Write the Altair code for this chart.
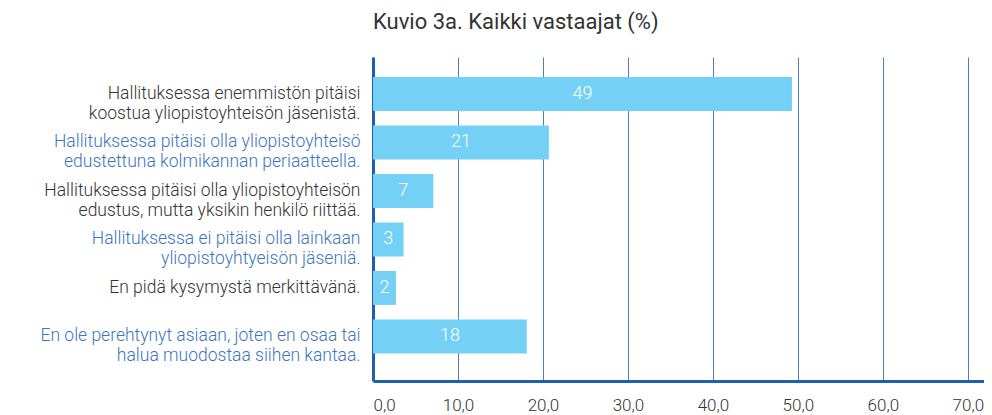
import json
import altair as alt
import pandas as pd

categories = [
    "Hallituksessa enemmistön pitäisi|koostua yliopistoyhteisön jäsenistä.",
    "Hallituksessa pitäisi olla yliopistoyhteisö|edustettuna kolmikannan periaatteella.",
    "Hallituksessa pitäisi olla yliopistoyhteisön|edustus, mutta yksikin henkilö riittää.",
    "Hallituksessa ei pitäisi olla lainkaan|yliopistoyhtyeisön jäseniä.",
    "En pidä kysymystä merkittävänä.",
    "En ole perehtynyt asiaan, joten en osaa tai|halua muodostaa siihen kantaa.",
]
values = [49.3, 20.7, 7.1, 3.6, 2.7, 18.1]
value_labels = ["49", "21", "7", "3", "2", "18"]
blue_categories = [categories[1], categories[3], categories[5]]
x_ticks = [0, 10, 20, 30, 40, 50, 60, 70]
title_text = "Kuvio 3a. Kaikki vastaajat (%)"

df = pd.DataFrame({"cat": categories, "value": values, "label": value_labels})

FONT = "Roboto"
BLUE_AXIS = "#1f5fad"
GRID = "#4a7fc3"
BAR = "#74d1f5"
TXT_BLACK = "#333333"
TXT_BLUE = "#3a75bf"

blue_test = "indexof(" + json.dumps(blue_categories, ensure_ascii=False) + ", datum.value) >= 0"

y_enc = alt.Y(
    "cat:N",
    sort=categories,
    scale=alt.Scale(paddingInner=0.3, paddingOuter=0.49, align=0.42),
    axis=alt.Axis(
        title=None,
        labelExpr="split(datum.label, '|')",
        labelFont=FONT,
        labelFontSize=17.5,
        labelFontWeight=300,
        labelLineHeight=20,
        labelColor={"condition": {"test": blue_test, "value": TXT_BLUE}, "value": TXT_BLACK},
        labelPadding=13,
        labelLimit=400,
        ticks=False,
        domain=True,
        domainColor=BLUE_AXIS,
        domainWidth=3,
        grid=False,
    ),
)

x_scale = alt.Scale(domain=[0, 71.9], nice=False, zero=True)

bars = alt.Chart(df).mark_bar(color=BAR).encode(
    x=alt.X(
        "value:Q",
        scale=x_scale,
        axis=alt.Axis(
            title=None,
            values=x_ticks,
            labelExpr="replace(format(datum.value, '.1f'), '.', ',')",
            labelFont=FONT,
            labelFontSize=17,
            labelFontWeight=300,
            labelColor=TXT_BLACK,
            labelPadding=16,
            ticks=False,
            domainColor=BLUE_AXIS,
            domainWidth=3,
            gridColor=GRID,
            gridWidth=1,
            gridOpacity=1,
        ),
    ),
    y=y_enc,
)

texts = alt.Chart(df).transform_calculate(mid="datum.value / 2").mark_text(
    color="white", font=FONT, fontSize=18, fontWeight=300, baseline="middle", align="center"
).encode(
    x=alt.X("mid:Q", scale=x_scale),
    y=alt.Y("cat:N", sort=categories),
    text="label:N",
)

chart = (
    alt.layer(bars, texts)
    .properties(
        width=611,
        height=324,
        title=alt.TitleParams(
            title_text,
            anchor="start",
            frame="group",
            font=FONT,
            fontSize=22,
            fontWeight=400,
            color=TXT_BLACK,
            offset=23,
        ),
        padding={"left": 365, "top": 49, "right": 0, "bottom": 32},
        autosize=alt.AutoSizeParams(type="none"),
    )
    .configure_view(stroke=None)
)

chart.save("out.html", embed_options={"renderer": "svg", "actions": False})
